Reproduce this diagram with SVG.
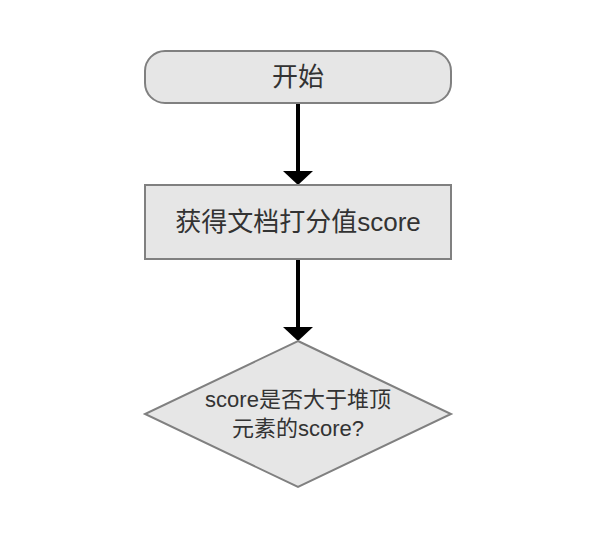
<svg xmlns="http://www.w3.org/2000/svg" width="600" height="544" viewBox="0 0 600 544">
  <style>
    .node { fill: #e6e6e6; stroke: #808080; stroke-width: 2; }
    .label { font-family: "Liberation Sans", "Noto Sans CJK SC", sans-serif; fill: #333333; text-anchor: middle; }
    .big { font-size: 26px; }
    .small { font-size: 22px; }
    .edge { stroke: #000000; stroke-width: 4; fill: none; }
  </style>
  <defs>
    <marker id="arrow" markerUnits="userSpaceOnUse" markerWidth="14" markerHeight="30" refX="4" refY="15" orient="auto">
      <path d="M0,0 L14,15 L0,30 Z" fill="#000000"/>
    </marker>
  </defs>
  <rect width="600" height="544" fill="#ffffff"/>
  <g id="connectors">
    <line class="edge" x1="298" y1="103" x2="298" y2="175" marker-end="url(#arrow)"/>
    <line class="edge" x1="298" y1="259" x2="298" y2="331" marker-end="url(#arrow)"/>
  </g>
  <g id="start">
    <rect class="node" x="145" y="51" width="306" height="52" rx="20" ry="20"/>
    <text class="label big" x="298" y="86">开始</text>
  </g>
  <g id="get-score">
    <rect class="node" x="145" y="185" width="306" height="74"/>
    <text class="label big" x="298" y="231">获得文档打分值score</text>
  </g>
  <g id="decision">
    <polygon class="node" points="298,341 451,414 298,487 145,414"/>
    <text class="label small" x="298" y="407">score是否大于堆顶</text>
    <text class="label small" x="298" y="436">元素的score?</text>
  </g>
</svg>
